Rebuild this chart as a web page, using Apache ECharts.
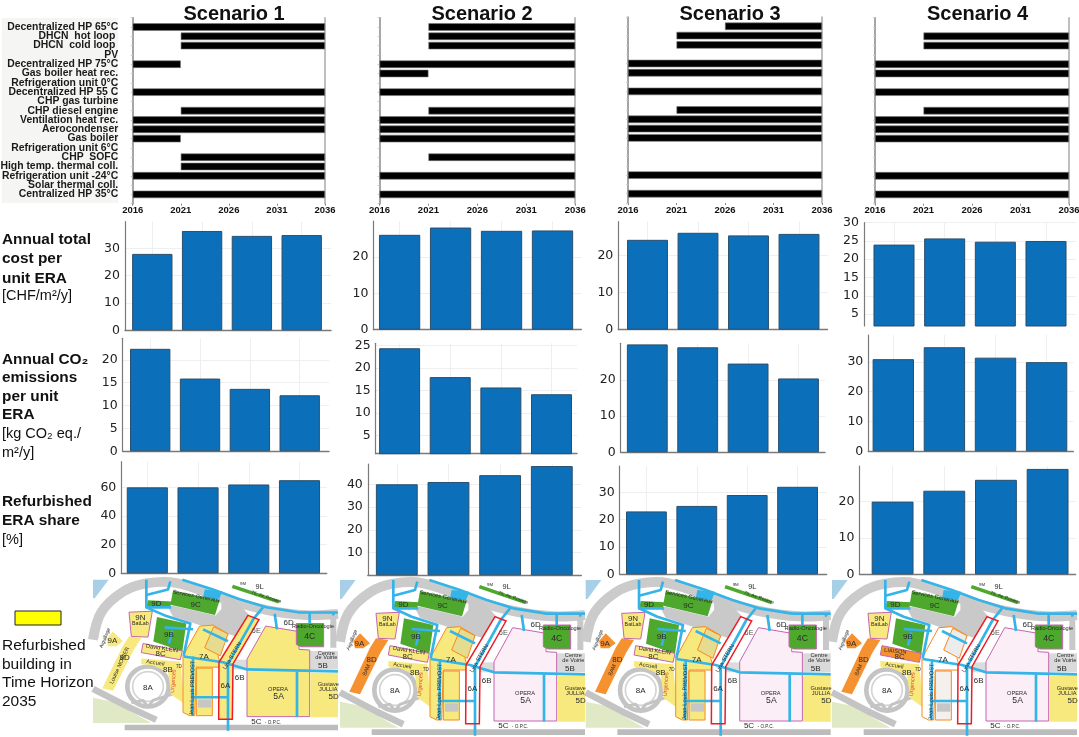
<!DOCTYPE html>
<html><head><meta charset="utf-8">
<style>html,body{margin:0;padding:0;background:#fff}#c{width:1079px;height:737px}</style>
<script src="https://cdn.jsdelivr.net/npm/echarts@6/dist/echarts.min.js"></script>
</head><body><div id="c"></div>
<script>
// ---------- DATA ----------
const scenarios = ['Scenario 1','Scenario 2','Scenario 3','Scenario 4'];
const technologies = ['Decentralized HP 65°C','DHCN  hot loop ','DHCN  cold loop ','PV','Decentralized HP 75°C','Gas boiler heat rec.','Refrigeration unit 0°C','Decentralized HP 55 C','CHP gas turbine','CHP diesel engine','Ventilation heat rec.','Aerocondenser','Gas boiler','Refrigeration unit 6°C','CHP  SOFC','High temp. thermal coll.','Refrigeration unit -24°C','Solar thermal coll.','Centralized HP 35°C'];
const horizonStart = 2016;
const yearTicks = [0,5,10,15,20];
const periods = [1,2,3,4];
// first and last year of use of every technology (null: never installed)
const startS1 = [2016,2021,2021,null,2016,null,null,2016,null,2021,2016,2016,2016,null,2021,2021,2016,null,2016];
const endS1   = [2036,2036,2036,null,2021,null,null,2036,null,2036,2036,2036,2021,null,2036,2036,2036,null,2036];
const startS2 = [2021,2021,2021,null,2016,2016,null,2016,null,2021,2016,2016,2016,null,2021,null,2016,null,2016];
const endS2   = [2036,2036,2036,null,2036,2021,null,2036,null,2036,2036,2036,2036,null,2036,null,2036,null,2036];
const startS3 = [2026,2021,2021,null,2016,2016,null,2016,null,2021,2016,2016,2016,null,null,null,2016,null,2016];
const endS3   = [2036,2036,2036,null,2036,2036,null,2036,null,2036,2036,2036,2036,null,null,null,2036,null,2036];
const startS4 = [null,2021,2021,null,2016,2016,null,2016,null,2021,2016,2016,2016,null,null,null,2016,null,2016];
const endS4   = [null,2036,2036,null,2036,2036,null,2036,null,2036,2036,2036,2036,null,null,null,2036,null,2036];
const costS1 = [28,36.4,34.6,34.9];
const costS2 = [26.1,28.1,27.2,27.3];
const costS3 = [24.3,26.2,25.5,25.9];
const costS4 = [24,25.7,24.8,25];
const co2S1 = [22.4,15.9,13.65,12.25];
const co2S2 = [24.4,18,15.7,14.2];
const co2S3 = [29.8,29,24.5,20.4];
const co2S4 = [30.9,34.9,31.4,29.9];
const shareS1 = [60,60,62,65];
const shareS2 = [40,41,44,48];
const shareS3 = [23,25,29,32];
const shareS4 = [20,23,26,29];
const costTicks = [[0,10,20,30],[0,10,20],[0,10,20],[5,10,15,20,25,30]];
const co2Ticks = [[0,5,10,15,20],[5,10,15,20,25],[0,10,20],[0,10,20,30]];
const shareTicks = [[0,20,40,60],[10,20,30,40],[0,10,20,30],[0,10,20]];

// ---------- LAYOUT ----------
const FONT='"Liberation Sans",Arial,sans-serif', NUM='"DejaVu Sans",sans-serif';
const BLUE='#0c6fba', EDGE='#2b4f6b', AXIS='#7a7a7a', GRIDC='#efefef';
const ganttBox=[[132.7,325,17.7,203.7],[379.5,575.2,17.7,203.7],[628,822,17,203],[875,1069,17.7,203.7]];
// left, right, top, bottom, first bar centre, last bar centre, axis min, axis max
const barRows=[
 {vals:[costS1,costS2,costS3,costS4],ticks:costTicks,box:[
  [125,331,221.7,330.3,152.3,301.7,0,39.8],[373.4,581.3,221,329.7,399.6,552.5,0,29.9],[618.3,827.5,221.7,329.7,647.5,799,0,29.2],[864,1075.7,222.7,326,894,1046,1.73,30]]},
 {vals:[co2S1,co2S2,co2S3,co2S4],ticks:co2Ticks,box:[
  [122.7,329,338.3,451.3,150.2,299.7,0,24.7],[375.7,577,343.3,453.7,399.6,551.5,1,25.5],[620.6,825,343.3,452.3,647.3,798.5,0,30.1],[868.3,1073.3,335,451.3,893.3,1046.6,0,39]]},
 {vals:[shareS1,shareS2,shareS3,shareS4],ticks:shareTicks,box:[
  [121.3,326.7,461.7,573.3,147.3,299.5,0,77.9],[367.8,581.3,464,575.3,396.8,551.8,0,48.9],[619.7,826.6,466,574.3,646.4,797.6,0,39.6],[859.4,1075.7,466,574.3,892.6,1047.6,0,29.8]]}
];
const grids=[],xAxes=[],yAxes=[],series=[];
const ganttCats=['',...technologies,''];
[[startS1,endS1],[startS2,endS2],[startS3,endS3],[startS4,endS4]].forEach((g,i)=>{
  const [l,r,t,b]=ganttBox[i], gi=grids.length;
  grids.push({left:l,top:t,width:r-l,height:b-t,outerBoundsMode:'none'});
  xAxes.push({gridIndex:gi,type:'value',min:0,max:20,position:'bottom',
    axisLine:{lineStyle:{color:'#bdbdbd',width:1.5}},axisTick:{show:true,length:2,lineStyle:{color:'#888'},customValues:yearTicks},
    splitLine:{show:false},axisLabel:{customValues:yearTicks,margin:2,color:'#111',fontFamily:FONT,fontWeight:'bold',fontSize:9.5,hideOverlap:false,formatter:v=>String(horizonStart+v)}});
  const yi=yAxes.length;
  yAxes.push({gridIndex:gi,type:'category',inverse:true,boundaryGap:false,data:ganttCats,
    axisLine:{lineStyle:{color:'#888',width:1.5}},axisTick:{show:true,length:2,inside:false,lineStyle:{color:'#ccc'}},splitLine:{show:false},
    axisLabel:{show:i===0,interval:0,margin:14.5,color:'#1a1a1a',fontFamily:FONT,fontWeight:'bold',fontSize:10.4,align:'right'}});
  yAxes.push({gridIndex:gi,type:'category',inverse:true,boundaryGap:false,position:'right',data:ganttCats,
    axisLine:{lineStyle:{color:'#aaa',width:1.5}},axisTick:{show:false},axisLabel:{show:false},splitLine:{show:false}});
  const xi=xAxes.length-1;
  const offs=['',...g[0].map(s=>s===null?null:s-horizonStart),''];
  const durs=['',...g[1].map((e,k)=>e===null?null:e-g[0][k]),''];
  series.push({type:'bar',xAxisIndex:xi,yAxisIndex:yi,stack:'g'+i,barWidth:7.5,silent:true,itemStyle:{color:'transparent'},data:offs});
  series.push({type:'bar',xAxisIndex:xi,yAxisIndex:yi,stack:'g'+i,barWidth:7.5,silent:true,itemStyle:{color:'#000',borderColor:'#777',borderWidth:0.6},data:durs});
});
barRows.forEach((row,ri)=>{
  row.box.forEach((bx,i)=>{
    const [l,r,t,b,c1,c4,ymin,ymax]=bx, gi=grids.length, step=(c4-c1)/3;
    grids.push({left:l,top:t,width:r-l,height:b-t,outerBoundsMode:'none'});
    xAxes.push({gridIndex:gi,type:'value',min:1-(c1-l)/step,max:4+(r-c4)/step,
      axisLine:{show:!(ri===0&&i===3),onZero:false,lineStyle:{color:AXIS,width:1.4}},
      axisTick:{show:false,customValues:periods},axisLabel:{show:false},
      splitLine:{show:true,lineStyle:{color:GRIDC,width:1}}});
    yAxes.push({gridIndex:gi,type:'value',min:ymin,max:ymax,
      axisLine:{show:true,onZero:false,lineStyle:{color:AXIS,width:1.2}},
      axisTick:{show:false,customValues:row.ticks[i]},
      axisLabel:{customValues:row.ticks[i],margin:5,color:'#222',fontFamily:NUM,fontSize:12.5},
      splitLine:{show:true,lineStyle:{color:GRIDC,width:1}}});
    series.push({type:'bar',xAxisIndex:xAxes.length-1,yAxisIndex:yAxes.length-1,barWidth:step*0.81,silent:true,
      itemStyle:{color:BLUE,borderColor:EDGE,borderWidth:1},data:row.vals[i].map((v,k)=>[periods[k],v])});
  });
});

// ---------- MAP ILLUSTRATIONS ----------
const YEL='#f8e97e',ORG='#f5922f',GRN='#4ea82e',PUR='#c466ad',CY='#35b4e8',GRY='#cbcbcb',RED='#ee1c25',OR2='#f58a1f';
const poly=(p,fill,stroke,lw)=>({type:'polygon',shape:{points:p},style:{fill:fill||'none',stroke:stroke||null,lineWidth:lw||0}});
const pl=(p,c,w,s)=>({type:'polyline',shape:{points:p,smooth:s||0},style:{stroke:c,lineWidth:w,fill:'none',lineJoin:'round'}});
const tx=(t,x,y,fs,o)=>{o=o||{};return {type:'text',x:x,y:y,rotation:o.r||0,style:{text:t,align:'center',verticalAlign:'middle',fontSize:fs,fontFamily:FONT,fill:o.c||'#2a2a2a',fontWeight:o.w||'normal'}};};
const ring=(x,y,r,w,c,f)=>({type:'circle',shape:{cx:x,cy:y,r:r},style:{fill:f||'none',stroke:c,lineWidth:w}});
function mapChildren(i){
  const pale=i>0, or9=i>0, s4=i===3;
  const c=[];
  // ground
  c.push(poly([[0,15],[47,15],[5,72],[0,72]],'#a8cfe8'));
  c.push(poly([[0,380],[60,392],[175,458],[0,458]],'#dfe9c6'));
  // roads
  c.push(pl([[0,200],[25,115],[90,52],[160,26],[250,25],[400,75],[520,108],[640,124],[735,120]],GRY,30,0.35));
  c.push(pl([[0,352],[110,410],[190,448]],'#c4c4c4',20));
  c.push(poly([[95,463],[735,463],[735,480],[95,480]],'#bcbcbc'));
  c.push(poly([[225,100],[240,128],[380,175],[430,190],[470,125],[410,60],[385,70],[385,105],[368,125],[240,95]],'#c9c9c9'));
  c.push(poly([[650,235],[735,235],[735,292],[650,292]],'#dadada'));
  c.push(poly([[712,125],[730,125],[730,225],[712,225]],'#c8c8c8'));
  c.push(poly([[420,262],[465,262],[465,292],[420,292]],'#dcdcdc'));
  // ring around 8A
  c.push(ring(165,345,62,14,'#c4c4c4'));
  c.push(ring(165,345,46,5,'#d4d4d4','#fff'));
  c.push(pl([[115,395],[150,388],[165,408],[180,388],[240,368]],'#c4c4c4',9));
  // green
  c.push(poly([[240,48],[380,78],[366,124],[232,92]],GRN));
  c.push(poly([[165,78],[236,82],[231,102],[160,100]],GRN));
  c.push(poly([[192,130],[280,150],[268,236],[181,206]],GRN));
  c.push(poly([[335,45],[388,50],[378,76],[330,70]],CY));
  c.push(poly([[420,30],[560,78],[556,88],[416,40]],GRN));
  // refurbishable buildings
  c.push(poly([[145,258],[262,268],[274,398],[235,370],[225,300],[180,280],[145,275]],YEL));
  c.push(poly([[40,198],[60,175],[90,205],[70,220],[45,220]],or9?ORG:YEL));
  c.push(poly([[28,350],[60,358],[122,232],[145,195],[108,190],[90,218]],or9?ORG:YEL));
  c.push(poly([[108,115],[178,112],[165,192],[115,190]],YEL,PUR,3));
  c.push(poly([[150,212],[268,235],[262,262],[145,240]],s4?ORG:YEL,PUR,3));
  const fill7=s4?'#fff':YEL;
  c.push(poly([[270,250],[320,158],[360,155],[405,182],[375,250],[385,285],[310,285],[305,435],[290,435],[270,425]],fill7,OR2,3));
  c.push(poly([[310,288],[358,288],[358,435],[310,435]],s4?'#f4f1ec':YEL,OR2,3));
  c.push(poly([[335,225],[362,160],[405,182],[382,250]],s4?'#ececec':'#e6dc90',OR2,3));
  c.push(poly([[315,385],[355,385],[355,410],[315,410]],'#c6c6c6'));
  c.push(poly([[518,158],[618,175],[618,230],[650,232],[650,438],[462,438],[462,260]],pale?'#fbeef7':YEL,PUR,3));
  c.push(poly([[652,302],[735,302],[735,440],[652,440]],YEL));
  c.push(poly([[610,150],[692,150],[692,222],[624,222],[610,215]],GRN,PUR,3));
  c.push(poly([[465,125],[498,138],[420,275],[418,446],[377,446],[378,270]],i===0?YEL:'#fff'));
  // heating network
  [[[160,15],[160,100],[235,100]],[[160,62],[225,45],[232,20]],[[268,15],[360,45],[440,75],[520,100],[620,116],[735,116]],
   [[510,100],[482,135],[405,275],[405,482]],[[545,120],[552,168]],[[650,118],[650,150]],[[720,118],[722,125]],
   [[160,100],[215,125],[292,150],[272,250]],[[215,162],[300,168]],[[238,172],[228,212]],[[330,168],[405,205]],
   [[272,252],[390,270],[462,292],[735,298]],[[300,252],[298,435]],[[300,378],[405,378]],[[612,298],[612,440]]
  ].forEach(p=>c.push(pl(p,CY,8)));
  c.push(poly([[465,125],[498,138],[420,275],[418,446],[377,446],[378,270]],'none',RED,4.5));
  // labels
  [['9D',190,90,24],['9C',308,93,24],['Services Generaux',310,66,17,{r:-0.2}],['9B',228,185,24],['9N',142,132,24],['BatLab',142,149,16],['9A',58,205,24],
   ['8D',95,255,24],['8C',203,245,24],['8B',225,293,24],['8A',165,348,24],['7A',333,253,24],['7D',258,285,14],['6A',397,342,24],['6B',440,318,24],
   ['6D',587,148,24],['6E',490,173,22,{c:'#555'}],['5A',557,377,26],['OPERA',555,355,17],['4C',650,190,26],['Radio-Oncologie',660,160,17],['Centre',700,242,17],
   ['de Voirie',700,256,17],['5B',690,280,24],['Gustave',706,340,17],['JULLIA',706,355,17],['5D',722,377,24],['5C',490,453,24],['- O.P.C.',540,456,14],
   ['9L',500,37,22],['9M',450,28,13],['75, Av. Rosiere',520,68,14,{r:-0.33}],['Accueil',187,272,17,{r:-0.15}],['Urgences',241,328,17,{r:1.5,c:'#e0482a'}],
   ['Jean-Louis PREVOST',298,350,17,{r:1.55}],['Lina STERN',418,250,17,{r:1.05}],['Aiguillage',36,195,15,{r:1.2}]
  ].forEach(a=>c.push(tx(a[0],a[1],a[2],a[3],a[4])));
  c.push(tx(i===0?'Louise MORIER':'8AM',80,i===0?280:285,17,{r:1.15}));
  c.push(tx(s4?'LIAISON':'David KLEIN',s4?190:207,s4?229:227,17,{r:s4?-0.1:-0.15}));
  return c;
}
const mapX=[93,340,585.7,832], mapSy=[0.97,1,1,1];

// ---------- TEXT & LEGEND ----------
const g=[];
const T=(t,x,y,fs,w,o)=>g.push(Object.assign({type:'text',x:x,y:y,style:{text:t,fontFamily:FONT,fontSize:fs,fontWeight:w,fill:'#111',verticalAlign:'middle',align:'left'}},o||{}));
g.push({type:'rect',z:-1,shape:{x:2,y:18,width:116,height:185},style:{fill:'#f5f5f4'}});
mapX.forEach((x,i)=>g.push({type:'group',x:x,y:575,scaleX:1/3,scaleY:mapSy[i]/3,silent:true,children:mapChildren(i)}));
[['Annual total',239.3,'bold'],['cost per',258.3,'bold'],['unit ERA',278.3,'bold'],['[CHF/m²/y]',296,'normal'],
 ['Annual CO₂',360,'bold'],['emissions',377.7,'bold'],['per unit',396.7,'bold'],['ERA',415,'bold'],['[kg CO₂ eq./',434.3,'normal'],['m²/y]',453.3,'normal'],
 ['Refurbished',501.7,'bold'],['ERA share',520.7,'bold'],['[%]',540,'normal']].forEach(a=>T(a[0],2,a[1],a[2]==='bold'?15.4:14.5,a[2]));
['Refurbished','building in','Time Horizon','2035'].forEach((t,k)=>T(t,2,[645.7,664.3,682.7,701.7][k],15.5,'normal'));
g.push({type:'rect',shape:{x:15,y:611,width:46,height:14},style:{fill:'#ffff00',stroke:'#222',lineWidth:1}});

const titles=scenarios.map((s,i)=>({text:s,left:[229,477,725,972.5][i],top:-1,textAlign:'center',textStyle:{fontFamily:FONT,fontWeight:'bold',fontSize:20,color:'#111'}}));

const chart=echarts.init(document.getElementById('c'),null,{renderer:'canvas'});
chart.setOption({animation:false,backgroundColor:'#fff',title:titles,grid:grids,xAxis:xAxes,yAxis:yAxes,series:series,graphic:{elements:g},tooltip:{show:false},legend:{show:false}});
</script></body></html>
